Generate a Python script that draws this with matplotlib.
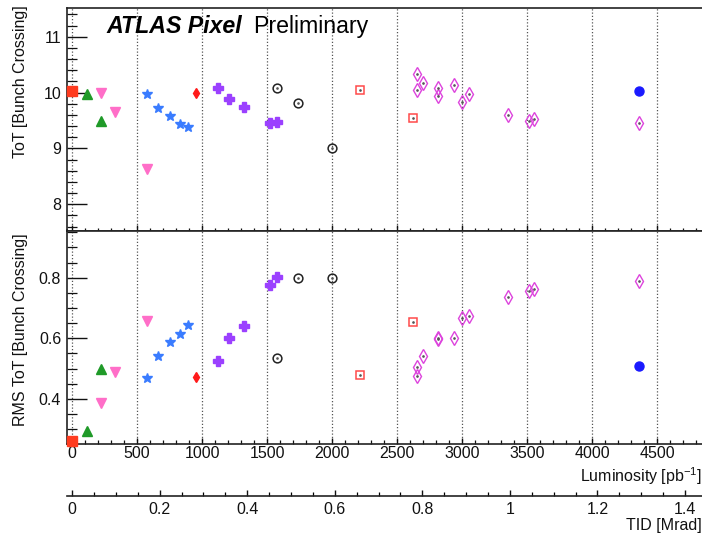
import matplotlib
matplotlib.use("Agg")
import matplotlib.pyplot as plt
from matplotlib.ticker import MultipleLocator, FixedLocator

plt.rcParams['font.family'] = ['Liberation Sans', 'DejaVu Sans']
plt.rcParams['mathtext.fontset'] = 'custom'
plt.rcParams['mathtext.rm'] = 'Liberation Sans'

# ---- data (Luminosity [pb^-1], ToT, RMS ToT) ----
sq_red_lum = [0]
sq_red_tot = [10.03]
sq_red_rms = [0.26]

tri_green_lum = [115, 223]
tri_green_tot = [9.98, 9.49]
tri_green_rms = [0.293, 0.498]

tri_pink_lum = [223, 331, 577]
tri_pink_tot = [10.0, 9.65, 8.63]
tri_pink_rms = [0.385, 0.489, 0.658]

star_blue_lum = [577, 662, 751, 828, 892]
star_blue_tot = [9.98, 9.72, 9.58, 9.44, 9.38]
star_blue_rms = [0.469, 0.540, 0.587, 0.613, 0.644]

dia_red_lum = [954]
dia_red_tot = [10.0]
dia_red_rms = [0.471]

cross_purple_lum = [1120, 1210, 1320, 1523, 1572]
cross_purple_tot = [10.09, 9.88, 9.74, 9.46, 9.48]
cross_purple_rms = [0.524, 0.600, 0.639, 0.775, 0.803]

circ_black_lum = [1572, 1741, 1995]
circ_black_tot = [10.09, 9.81, 9.01]
circ_black_rms = [0.534, 0.800, 0.800]

osq_red_lum = [2218, 2623]
osq_red_tot = [10.04, 9.55]
osq_red_rms = [0.479, 0.655]

dia_mag_lum = [2651, 2654, 2697, 2815, 2815, 2941, 3002, 3051, 3351, 3512, 3556, 4364]
dia_mag_tot = [10.34, 10.04, 10.17, 10.08, 9.94, 10.14, 9.83, 9.98, 9.60, 9.49, 9.53, 9.45]
dia_mag_rms = [0.475, 0.506, 0.541, 0.600, 0.597, 0.602, 0.666, 0.674, 0.735, 0.757, 0.762, 0.789]

circ_blue_lum = [4364]
circ_blue_tot = [10.03]
circ_blue_rms = [0.508]

lum_ticks = [0, 500, 1000, 1500, 2000, 2500, 3000, 3500, 4000, 4500]
tid_ticks = [0, 0.2, 0.4, 0.6, 0.8, 1.0, 1.2, 1.4]
tid_labels = ['0', '0.2', '0.4', '0.6', '0.8', '1', '1.2', '1.4']
mrad_per_lum = 2.97e-4

# ---- layout ----
W, H = 702, 536
fig = plt.figure(figsize=(W / 100, H / 100), dpi=100)
x0 = 66.7 / W
top1 = 1 - 8.3 / H
div = 1 - 230.5 / H
bot2 = 1 - 444.3 / H
ax1 = fig.add_axes([x0, div, 1 - x0, top1 - div])
ax2 = fig.add_axes([x0, bot2, 1 - x0, div - bot2])

XMIN, XMAX = -42, 4845
FS = 11.5

series = [
    (sq_red_lum, sq_red_tot, sq_red_rms, dict(marker='s', ms=6.5, color='#ff3b1f', mfc='#ff3b1f', mec='#ff3b1f'), False),
    (tri_green_lum, tri_green_tot, tri_green_rms, dict(marker='^', ms=6.5, color='#1f9a28', mfc='#1f9a28', mec='#1f9a28'), False),
    (tri_pink_lum, tri_pink_tot, tri_pink_rms, dict(marker='v', ms=6.5, color='#ff6ec8', mfc='#ff6ec8', mec='#ff6ec8'), False),
    (star_blue_lum, star_blue_tot, star_blue_rms, dict(marker='*', ms=7, color='#3a7cff', mfc='#3a7cff', mec='#3a7cff'), False),
    (dia_red_lum, dia_red_tot, dia_red_rms, dict(marker='d', ms=5.5, color='#ff1a1a', mfc='#ff1a1a', mec='#ff1a1a'), False),
    (cross_purple_lum, cross_purple_tot, cross_purple_rms, dict(marker='P', ms=7, color='#9b40ff', mfc='#9b40ff', mec='#9b40ff'), False),
    (circ_black_lum, circ_black_tot, circ_black_rms, dict(marker='o', ms=6.3, mfc='none', mec='#222222', mew=1.1), True),
    (osq_red_lum, osq_red_tot, osq_red_rms, dict(marker='s', ms=6, mfc='none', mec='#ff4a4a', mew=1.1), True),
    (dia_mag_lum, dia_mag_tot, dia_mag_rms, dict(marker='d', ms=7.3, mfc='none', mec='#dd44dd', mew=1.0), True),
    (circ_blue_lum, circ_blue_tot, circ_blue_rms, dict(marker='o', ms=6.5, color='#1a1aff', mfc='#1a1aff', mec='#1a1aff'), False),
]

for lum, tot, rms, st, dot in series:
    for ax, vals in ((ax1, tot), (ax2, rms)):
        ax.plot(lum, vals, linestyle='none', clip_on=False, zorder=5, **st)
        if dot:
            ax.plot(lum, vals, linestyle='none', marker='.', ms=1.8, color='#555555', zorder=6, clip_on=False)

grid_style = dict(color='#555555', linestyle=(0, (1, 1.6)), linewidth=0.9, zorder=1)
for ax in (ax1, ax2):
    ax.set_xlim(XMIN, XMAX)
    for t in lum_ticks:
        ax.axvline(t, **grid_style)
    ax.spines['right'].set_visible(False)
    for s in ('left', 'top', 'bottom'):
        ax.spines[s].set_linewidth(1.2)
        ax.spines[s].set_color('#222222')
    ax.xaxis.set_major_locator(FixedLocator(lum_ticks))
    ax.xaxis.set_minor_locator(MultipleLocator(100))
    ax.tick_params(axis='both', which='both', direction='in', top=False, right=False,
                   labelsize=FS, colors='#111111')
    ax.tick_params(axis='y', which='major', length=14.5, width=1.0, pad=4)
    ax.tick_params(axis='y', which='minor', length=7, width=0.9)

ax1.set_ylim(7.53, 11.51)
ax1.yaxis.set_major_locator(MultipleLocator(1))
ax1.yaxis.set_minor_locator(MultipleLocator(0.2))
ax1.tick_params(axis='x', which='major', length=4, width=1.0, labelbottom=False)
ax1.tick_params(axis='x', which='minor', length=2.2, width=0.9)

ax2.set_ylim(0.25, 0.956)
ax2.yaxis.set_major_locator(FixedLocator([0.4, 0.6, 0.8]))
ax2.yaxis.set_minor_locator(MultipleLocator(0.05))
ax2.set_yticklabels(['0.4', '0.6', '0.8'])
ax2.tick_params(axis='x', which='major', length=4.5, width=1.0, pad=1.5)
ax2.tick_params(axis='x', which='minor', length=2.6, width=0.9)
ax2.set_xticklabels([str(t) for t in lum_ticks])

# TID axis
tid_y = 1 - 496 / H
ax3 = fig.add_axes([x0, tid_y, 1 - x0, 0.0001])
ax3.set_xlim(XMIN * mrad_per_lum, XMAX * mrad_per_lum)
ax3.set_ylim(0, 1)
for s in ('left', 'right', 'top'):
    ax3.spines[s].set_visible(False)
ax3.spines['bottom'].set_linewidth(1.2)
ax3.spines['bottom'].set_color('#222222')
ax3.set_yticks([])
ax3.patch.set_visible(False)
ax3.xaxis.set_major_locator(FixedLocator(tid_ticks))
ax3.set_xticklabels(tid_labels)
ax3.xaxis.set_minor_locator(MultipleLocator(0.05))
ax3.tick_params(axis='x', which='major', direction='in', length=4.5, width=1.0, pad=4, labelsize=FS, colors='#111111')
ax3.tick_params(axis='x', which='minor', direction='in', length=2.6, width=0.9)
for t in ax3.xaxis.get_major_ticks() + ax3.xaxis.get_minor_ticks():
    t.tick1line.set_clip_on(False)

# labels
fig.text(1.0, 1 - 482 / H, r'Luminosity [pb$^{-1}$]', ha='right', va='baseline', fontsize=FS, color='#111111')
fig.text(1.0, 1 - 530 / H, 'TID [Mrad]', ha='right', va='baseline', fontsize=FS, color='#111111')
fig.text(20.5 / W, 1 - 5 / H, 'ToT [Bunch Crossing]', rotation=90, ha='center', va='top', fontsize=FS, color='#111111')
fig.text(20.5 / W, 1 - 233 / H, 'RMS ToT [Bunch Crossing]', rotation=90, ha='center', va='top', fontsize=FS, color='#111111')

fig.text(106.7 / W, 1 - 33.3 / H, 'ATLAS Pixel', fontsize=16.7, fontweight='bold', fontstyle='italic',
         ha='left', va='baseline', color='black')
fig.text(253 / W, 1 - 33.3 / H, 'Preliminary', fontsize=16.7, ha='left', va='baseline', color='black')

fig.savefig('out.png', dpi=100)
